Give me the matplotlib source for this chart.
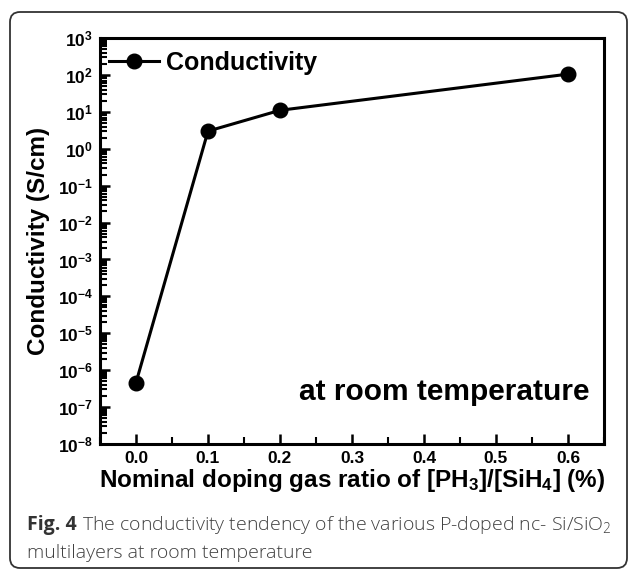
import matplotlib
matplotlib.use("Agg")
import matplotlib.pyplot as plt
import matplotlib.ticker as mticker
from matplotlib.patches import FancyBboxPatch
from matplotlib.transforms import IdentityTransform
import numpy as np

# ---- data ----
doping_ratio = [0.0, 0.1, 0.2, 0.6]
conductivity = [4.6e-7, 3.0, 11.0, 105.0]
series_label = "Conductivity"
x_label = r"Nominal doping gas ratio of [PH$_\mathbf{3}$]/[SiH$_\mathbf{4}$] (%)"
y_label = "Conductivity (S/cm)"
annotation = "at room temperature"
caption_bold = "Fig. 4"
caption_line1 = " The conductivity tendency of the various P-doped nc- Si/SiO$_2$"
caption_line2 = "multilayers at room temperature"

plt.rcParams['font.family'] = ['Liberation Sans', 'DejaVu Sans']
plt.rcParams['mathtext.fontset'] = 'custom'
plt.rcParams['mathtext.rm'] = 'Open Sans:light'
plt.rcParams['mathtext.bf'] = 'Liberation Sans:bold'
plt.rcParams['mathtext.it'] = 'Open Sans:italic'

W, H = 629, 569
fig = plt.figure(figsize=(W / 100, H / 100), dpi=100)
ax = fig.add_axes([100 / W, 1 - 444 / H, 504 / W, 406 / H])

ax.plot(doping_ratio, conductivity, color='black', lw=2.2, marker='o',
        markersize=10.5, label=series_label)
ax.set_yscale('log')
ax.set_ylim(1e-8, 1e3)
ax.set_xlim(-0.05, 0.65)

ax.xaxis.set_major_locator(mticker.MultipleLocator(0.1))
ax.xaxis.set_minor_locator(mticker.MultipleLocator(0.05))
ax.xaxis.set_major_formatter(mticker.FormatStrFormatter('%.1f'))
decades = np.arange(-8, 4)
ax.yaxis.set_major_locator(mticker.FixedLocator(10.0 ** decades))
minor_pos = [m * 10.0 ** d for d in decades[:-1] for m in range(2, 10)]
ax.yaxis.set_minor_locator(mticker.FixedLocator(minor_pos))
ax.yaxis.set_minor_formatter(mticker.NullFormatter())
ax.yaxis.set_major_formatter(mticker.FuncFormatter(
    lambda v, p: r'$\mathbf{10^{%d}}$' % int(round(np.log10(v)))))

for s in ax.spines.values():
    s.set_linewidth(2.2)
ax.tick_params(axis='both', which='major', direction='in', top=False, right=False,
               width=1.8, length=7.5, labelsize=12.5, pad=5)
ax.tick_params(axis='both', which='minor', direction='in', top=False, right=False,
               width=1.5, length=5)
for lab in ax.get_xticklabels():
    lab.set_fontweight('bold')

ax.set_xlabel(x_label, fontsize=17.5, fontweight='bold', labelpad=1)
ax.set_ylabel(y_label, fontsize=17.5, fontweight='bold', labelpad=6)

leg = ax.legend(loc='upper left', frameon=False, prop={'weight': 'bold', 'size': 18},
                handlelength=2.0, handletextpad=0.3, borderaxespad=0.0,
                bbox_to_anchor=(0.0, 0.99), borderpad=0.35)

ax.text(0.972, 0.108, annotation, transform=ax.transAxes, ha='right', va='baseline',
        fontsize=21.5, fontweight='bold')

# frame
frame = FancyBboxPatch((10, 1), 617, 556, boxstyle="round,pad=0,rounding_size=10",
                       transform=IdentityTransform(), fill=False, edgecolor='#333333',
                       linewidth=1.3)
fig.add_artist(frame)

# caption
cap_color = '#404040'
t1 = fig.text(27 / W, 1 - 530 / H, caption_bold, fontsize=14, fontweight='bold',
              family='Open Sans', color='#333333', va='baseline')
fig.canvas.draw()
bb = t1.get_window_extent()
fig.text(bb.x1 / W, 1 - 530 / H, caption_line1, fontsize=14, family='Open Sans',
         fontweight='light', color=cap_color, va='baseline')
fig.text(27 / W, 1 - 558 / H, caption_line2, fontsize=14, family='Open Sans',
         fontweight='light', color=cap_color, va='baseline')

fig.savefig('out.png', dpi=100)
